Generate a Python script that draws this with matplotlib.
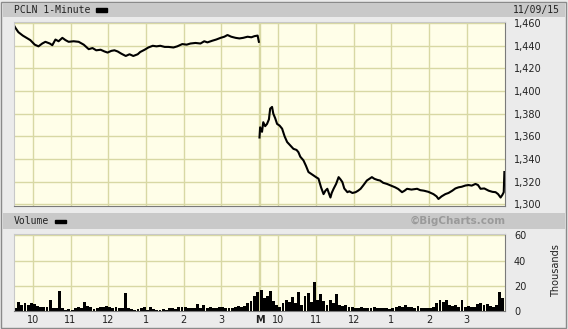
import matplotlib
matplotlib.use("Agg")
import matplotlib.pyplot as plt
from matplotlib.patches import Rectangle
import numpy as np

# price, day 1 (minute since 9:30, price)
day1_min = [0, 2, 7, 14, 20, 26, 33, 39, 45, 50, 57, 61, 66, 71, 77, 82, 87, 95,
            103, 111, 119, 125, 131, 138, 144, 149, 155, 160, 165, 171, 178, 184,
            190, 197, 201, 208, 214, 221, 227, 233, 240, 246, 254, 260, 268, 275,
            281, 289, 297, 303, 308, 316, 322, 329, 335, 340, 346, 353, 359, 365,
            372, 378, 383, 388, 390]
day1_px = [1458, 1456, 1452, 1449, 1447, 1445, 1441, 1439.5, 1442, 1443.5, 1442,
           1440.5, 1445.5, 1444, 1447, 1445, 1443.5, 1444, 1443.5, 1441, 1437, 1438,
           1436, 1436.5, 1435, 1434, 1435.5, 1436, 1435, 1433, 1431, 1432.5, 1431,
           1432.5, 1434.5, 1436.5, 1438.5, 1440, 1439.5, 1440, 1439, 1439, 1438.5,
           1439.5, 1441.5, 1441, 1442, 1442.5, 1442, 1444, 1443, 1444.5, 1445.5,
           1447, 1448, 1449.5, 1448, 1447, 1446.5, 1447, 1448, 1447.5, 1448.5, 1449,
           1443.5]

# price, day 2 (minute since 9:30 of day 1 + gap)
day2_min = [391, 392, 395, 397, 400, 403, 406, 408, 411, 413, 416, 419, 423, 427,
            431, 435, 440, 445, 450, 453, 456, 461, 465, 469, 473, 477, 481, 485,
            489, 493, 496, 499, 502, 504, 506, 509, 513, 517, 520, 523, 526, 531,
            534, 539, 544, 548, 552, 556, 562, 566, 570, 574, 579, 583, 588, 594,
            600, 607, 612, 618, 622, 626, 633, 642, 647, 653, 660, 668, 673, 676,
            681, 687, 692, 698, 703, 708, 713, 719, 724, 729, 735, 739, 743, 749,
            756, 762, 767, 771, 775, 778, 780, 781]
day2_px = [1359, 1368, 1364, 1372.5, 1369, 1371, 1375, 1384.5, 1386, 1380, 1376,
           1371, 1369.5, 1366.8, 1360, 1355, 1352, 1349, 1348, 1346, 1342, 1338.8,
           1334, 1328.5, 1327, 1325.5, 1324, 1322.6, 1315, 1309, 1312, 1313.7, 1309,
           1306, 1310, 1313.7, 1318, 1324, 1322, 1319.6, 1314, 1310.7, 1311.5, 1310,
           1310.7, 1312, 1313.7, 1316.5, 1321, 1322.5, 1324, 1322.5, 1321.5, 1321,
           1319, 1318, 1316.6, 1315, 1313.5, 1310.7, 1312, 1313.7, 1313, 1313.7,
           1312.5, 1312, 1311, 1309, 1307, 1304.7, 1307, 1309, 1310, 1312, 1314,
           1315, 1315.5, 1316.6, 1317, 1316.5, 1318, 1317, 1313.7, 1314, 1312, 1311,
           1310.7, 1309, 1306, 1308.5, 1310.7, 1328.5]

# volume in thousands, 5-minute bins (78 per day)
vol_day1 = [2.5, 7, 5, 6, 5, 6, 5.5, 4, 3.5, 3, 3.5, 9, 2, 2, 16, 2, 1, 1.5, 1, 2.5,
            3, 2.5, 7, 4, 3, 1.5, 2, 3.5, 3, 4, 3, 2, 3, 2.5, 2.5, 14, 2, 1.5, 1, 1.5,
            2, 3, 1, 3, 1.5, 1, 1, 1.5, 1, 2.5, 2, 1.5, 3, 3.5, 3, 2, 2, 2.5, 5.5, 2.5,
            5, 2.5, 3, 2, 2, 3.5, 3, 2, 2, 2.5, 3.5, 4, 3, 4, 6, 8, 12, 15]
vol_day2 = [16.5, 10, 12, 16, 8, 5, 3.5, 6, 9, 7, 11, 6, 15, 5, 12, 14, 7, 23, 9,
            13.5, 8, 5, 9, 6, 13.5, 5, 4, 5, 3, 3.5, 2.5, 2, 3, 2, 2.5, 2, 3, 2, 2,
            2.5, 2, 1.5, 2, 3.5, 4, 3, 5, 3, 3, 2.5, 4, 2.5, 2, 2.5, 2, 3, 6, 8.5, 7,
            9, 5, 4, 5, 3, 8.5, 3, 4, 3, 3.5, 5.5, 6, 5, 5.5, 4, 3.5, 5, 15, 10]

price_ticks = [1300, 1320, 1340, 1360, 1380, 1400, 1420, 1440, 1460]
vol_ticks = [0, 20, 40, 60]
hour_labels = ["10", "11", "12", "1", "2", "3", "M", "10", "11", "12", "1", "2", "3"]
hour_pos = [30, 90, 150, 210, 270, 330, 391, 421, 481, 541, 601, 661, 721]

W, H = 568, 329
fig = plt.figure(figsize=(W / 100, H / 100), dpi=100, facecolor="#ebebeb")


def box(x0, y0, x1, y1):
    # pixel box (top-left origin) -> figure fraction rect
    return [x0 / W, 1 - y1 / H, (x1 - x0) / W, (y1 - y0) / H]


# frame + header bars
fig.patches.append(Rectangle((1 / W, 1 / H), 565 / W, 326 / H, transform=fig.transFigure,
                             fill=False, edgecolor="#8a8a8a", lw=1))
for y0, y1 in [(3, 17), (213, 229)]:
    fig.patches.append(Rectangle((3 / W, 1 - y1 / H), 562 / W, (y1 - y0) / H,
                                 transform=fig.transFigure, color="#c9c9c9", lw=0))

mono = "DejaVu Sans Mono"
fig.text(14 / W, 1 - 10 / H, "PCLN 1-Minute", family=mono, fontsize=7, va="center", color="#222222")
fig.patches.append(Rectangle((96 / W, 1 - 11.5 / H), 11 / W, 3 / H, transform=fig.transFigure, color="black"))
fig.text(560 / W, 1 - 10 / H, "11/09/15", family=mono, fontsize=7, va="center", ha="right", color="#222222")
fig.text(14 / W, 1 - 221 / H, "Volume", family=mono, fontsize=7, va="center", color="#222222")
fig.patches.append(Rectangle((55 / W, 1 - 222.5 / H), 11 / W, 3 / H, transform=fig.transFigure, color="black"))
fig.text(506 / W, 1 - 221 / H, "\u00a9BigCharts.com", fontsize=7.5, weight="bold", va="center",
         ha="right", color="#9a9a9a")
fig.text(556 / W, 1 - 271 / H, "Thousands", fontsize=7, rotation=90, va="center", ha="center",
         color="#222222")

grid_c = "#d8d8a4"
bg = "#fffee8"
seps = [389.8, 392]


def style(ax):
    ax.set_facecolor(bg)
    ax.set_xlim(0, 782)
    for s in ["top", "left"]:
        ax.spines[s].set_color("#c8c8c8")
    for s in ["bottom", "right"]:
        ax.spines[s].set_color("#7a7a7a")
    for p in hour_pos:
        if p != 391:
            ax.axvline(p, color=grid_c, lw=1, zorder=0)
    for p in seps:
        ax.axvline(p, color=grid_c, lw=1, zorder=0)
    ax.yaxis.tick_right()
    ax.tick_params(axis="both", length=0, labelsize=7, colors="#222222")
    ax.tick_params(axis="y", pad=6.5)


# price panel
ax = fig.add_axes(box(14, 22, 505, 206))
style(ax)
ax.set_ylim(1298.5, 1461)
for t in price_ticks:
    ax.axhline(t, color=grid_c, lw=1, zorder=0)
ax.plot(day1_min, day1_px, color="black", lw=1.5)
ax.plot(day2_min, day2_px, color="black", lw=1.5)
ax.set_yticks(price_ticks)
ax.set_yticklabels([f"{t:,}" for t in price_ticks])
for lab in ax.get_yticklabels():
    lab.set_horizontalalignment("left")
ax.set_xticks([])

# volume panel
axv = fig.add_axes(box(14, 234, 505, 311))
style(axv)
axv.set_ylim(0, 61)
for t in vol_ticks[1:]:
    axv.axhline(t, color=grid_c, lw=1, zorder=0)
x1 = [5 * k + 2.5 for k in range(len(vol_day1))]
x2 = [391 + 5 * k + 2.5 for k in range(len(vol_day2))]
axv.bar(x1, vol_day1, width=4.6, color="black", lw=0)
axv.bar(x2, vol_day2, width=4.6, color="black", lw=0)
axv.set_yticks(vol_ticks)
for lab in axv.get_yticklabels():
    lab.set_horizontalalignment("left")
axv.set_xticks(hour_pos)
axv.set_xticklabels(hour_labels)
axv.tick_params(axis="x", pad=3)
axv.get_xticklabels()[6].set_weight("bold")

fig.savefig("out.png", dpi=100, facecolor=fig.get_facecolor())
